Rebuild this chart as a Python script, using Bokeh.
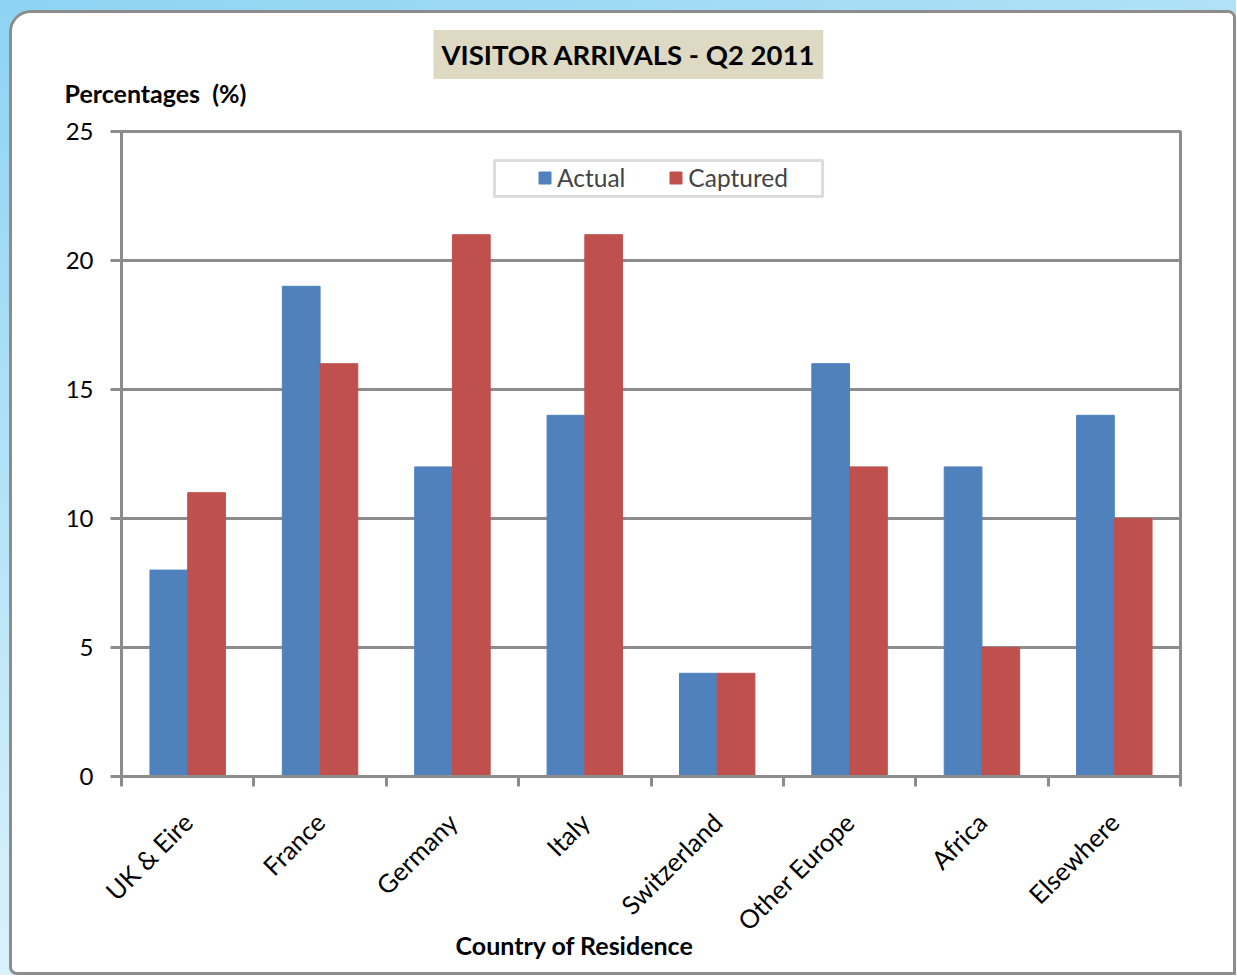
from math import pi
from bokeh.plotting import figure
from bokeh.models import (Range1d, LinearAxis, FixedTicker, Title,
                          BoxAnnotation, Legend, LegendItem, ColumnDataSource)
from bokeh.layouts import column
from bokeh.transform import dodge
from bokeh.embed import file_html
from bokeh.resources import INLINE

countries = ["UK & Eire", "France", "Germany", "Italy", "Switzerland",
             "Other Europe", "Africa", "Elsewhere"]
actual = [8, 19, 12, 14, 4, 16, 12, 14]
captured = [11, 16, 21, 21, 4, 12, 5, 10]
y_ticks = [0, 5, 10, 15, 20, 25]
series_names = ["Actual", "Captured"]
title_text = "VISITOR ARRIVALS - Q2 2011"
y_title = "Percentages\u00a0\u00a0(%)"
x_title = "Country of Residence"

FONT = "Lato"
GRAY = "#8c8c8c"
BLUE = "#4f81bd"
RED = "#c0504d"

n = len(countries)
centers = [i + 0.5 for i in range(n)]
src = ColumnDataSource(dict(pos=centers, country=countries, actual=actual, captured=captured))

p = figure(width=1221, height=959, x_range=Range1d(0, n), y_range=Range1d(0, 25),
           output_backend="svg", toolbar_location=None, x_axis_location=None,
           min_border_left=109, min_border_right=59, min_border_top=118, min_border_bottom=202)
p.border_fill_color = "white"
p.background_fill_color = "white"
p.outline_line_color = GRAY
p.outline_line_width = 3

r1 = p.vbar(x=dodge("pos", -0.1425), top="actual", width=0.285,
            source=src, fill_color=BLUE, line_color=BLUE)
r2 = p.vbar(x=dodge("pos", 0.1425), top="captured", width=0.285,
            source=src, fill_color=RED, line_color=RED)

p.xgrid.visible = False
p.ygrid.grid_line_color = GRAY
p.ygrid.grid_line_width = 3

ya = p.yaxis[0]
ya.ticker = FixedTicker(ticks=y_ticks)
ya.axis_line_color = GRAY
ya.axis_line_width = 3
ya.major_tick_line_color = GRAY
ya.major_tick_line_width = 3
ya.major_tick_out = 11
ya.major_tick_in = 0
ya.minor_tick_line_color = None
ya.major_label_text_font = FONT
ya.major_label_text_font_size = "24px"
ya.major_label_text_color = "black"
ya.major_label_standoff = 17

edges = list(range(n + 1))
edge_axis = LinearAxis(ticker=FixedTicker(ticks=edges),
                       major_label_overrides={i: "" for i in edges},
                       axis_line_color=GRAY, axis_line_width=3,
                       major_tick_line_color=GRAY, major_tick_line_width=3,
                       major_tick_out=10, major_tick_in=0, minor_tick_line_color=None,
                       major_label_standoff=0, major_label_text_font_size="1px")
p.add_layout(edge_axis, "below")

cat_axis = LinearAxis(ticker=FixedTicker(ticks=centers),
                      major_label_overrides={c: name for c, name in zip(centers, countries)},
                      major_tick_line_color=None, axis_line_color=None,
                      minor_tick_line_color=None,
                      major_label_orientation=pi / 4,
                      major_label_text_font=FONT, major_label_text_font_size="25.5px",
                      major_label_text_color="black", major_label_standoff=25)
p.add_layout(cat_axis, "below")

p.add_layout(Title(text=x_title, align="left", offset=334, text_font=FONT,
                   text_font_style="bold", text_font_size="25px", text_color="black",
                   vertical_align="top", standoff=-40), "below")

# legend frame
p.add_layout(BoxAnnotation(left=2.818, right=5.296, bottom=22.48, top=23.88,
                           fill_color="white", fill_alpha=1.0,
                           line_color=GRAY, line_width=3, level="annotation"))
legend = Legend(items=[LegendItem(label=series_names[0], renderers=[r1]),
                       LegendItem(label=series_names[1], renderers=[r2])],
                orientation="horizontal", location=(416, 584),
                background_fill_alpha=0, border_line_color=None,
                glyph_width=15, glyph_height=15, label_standoff=5, spacing=43,
                padding=0, margin=0, label_text_font=FONT, label_text_font_size="24.5px",
                label_height=24)
p.add_layout(legend, "center")

p.add_layout(Title(text=y_title, align="left", offset=-57, text_font=FONT,
                   text_font_style="bold", text_font_size="25px", text_color="black",
                   standoff=47), "above")
p.add_layout(Title(text=title_text, align="left", offset=312, text_font=FONT,
                   text_font_style="bold", text_font_size="27.5px", text_color="black",
                   background_fill_color="#ddd9c3", padding=8, standoff=-53), "above")

p.styles = {"border": "3px solid #8c8c8c", "border-radius": "22px 8px 0 8px",
            "overflow": "hidden", "background": "white", "box-sizing": "content-box"}

page = column(p, styles={"background": "linear-gradient(160deg, #8dd3f2 0%, #bfe7f8 45%, #ffffff 100%)",
                         "padding": "10px 0 0 9px"})

open("out.html", "w").write(file_html(page, INLINE))
